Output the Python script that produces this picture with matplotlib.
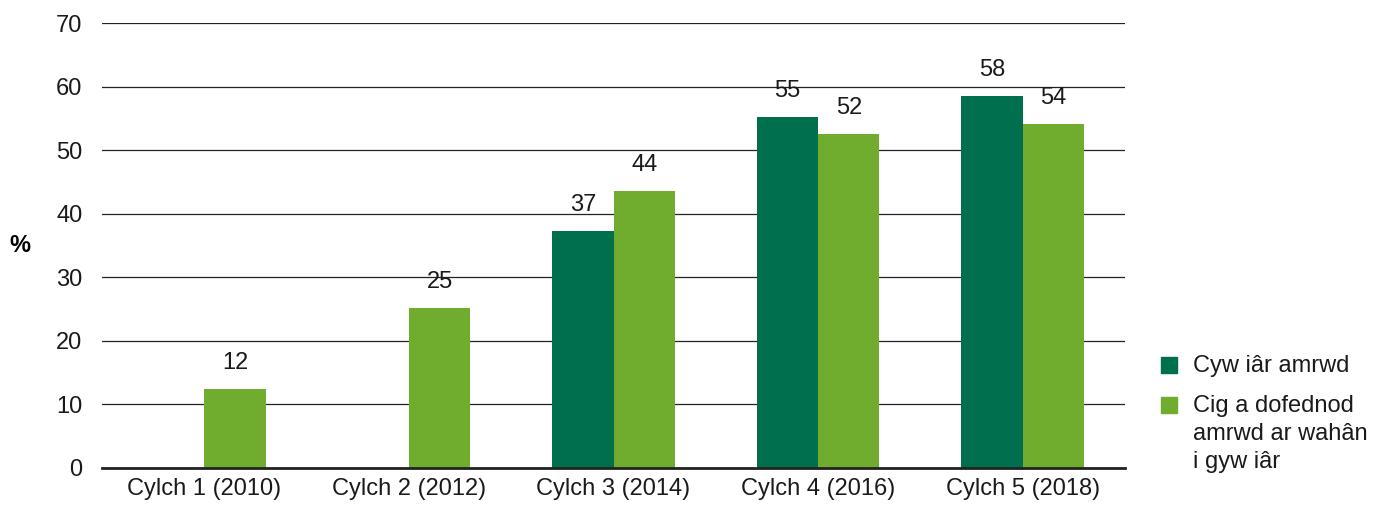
import numpy as np
import matplotlib.pyplot as plt
from matplotlib.patches import Rectangle

plt.rcParams['font.family'] = ['Liberation Sans', 'DejaVu Sans']

categories = ['Cylch 1 (2010)', 'Cylch 2 (2012)', 'Cylch 3 (2014)', 'Cylch 4 (2016)', 'Cylch 5 (2018)']
raw_chicken = [np.nan, np.nan, 37.3, 55.2, 58.5]
raw_chicken_labels = ['', '', '37', '55', '58']
other_poultry = [12.4, 25.2, 43.6, 52.5, 54.1]
other_poultry_labels = ['12', '25', '44', '52', '54']
series_names = ['Cyw iâr amrwd', 'Cig a dofednod\namrwd ar wahân\ni gyw iâr']

dark = '#006f4e'
light = '#70ad2f'
fs = 17

fig = plt.figure(figsize=(13.86, 5.08), dpi=100)
ax = fig.add_axes([102/1386, 1 - 468/508, 1023/1386, 445/508])

x = np.arange(len(categories))
w = 0.3
b1 = ax.bar(x - w/2, raw_chicken, w, color=dark, zorder=3)
b2 = ax.bar(x + w/2, other_poultry, w, color=light, zorder=3)

for bars, labels in [(b1, raw_chicken_labels), (b2, other_poultry_labels)]:
    for rect, lab in zip(bars, labels):
        if lab:
            ax.text(rect.get_x() + rect.get_width()/2, rect.get_height() + 2.4, lab,
                    ha='center', va='bottom', fontsize=fs, color='#1a1a1a')

ax.set_xlim(-0.5, 4.5)
ax.set_ylim(0, 70)
ax.set_yticks(range(0, 71, 10))
ax.set_xticks(x)
ax.set_xticklabels(categories)
ax.tick_params(length=0, labelsize=fs, colors='#1a1a1a')
ax.tick_params(axis='y', pad=14)
ax.tick_params(axis='x', pad=7)
ax.grid(axis='y', color='#222222', linewidth=0.9, zorder=0)
for s in ['top', 'right', 'left']:
    ax.spines[s].set_visible(False)
ax.spines['bottom'].set_linewidth(2)
ax.spines['bottom'].set_color('#222222')
ax.spines['bottom'].set_zorder(4)

fig.text(20/1386, 1 - 246/508, '%', fontsize=fs, fontweight='bold', ha='center', va='center')

# legend drawn by hand so the swatch sits beside the first text line
for name, col, ytop in [(series_names[0], dark, 357), (series_names[1], light, 397)]:
    fig.add_artist(Rectangle((1161/1386, 1 - (ytop + 16)/508), 16/1386, 16/508,
                             transform=fig.transFigure, color=col))
    fig.text(1193/1386, 1 - (ytop - 2)/508, name, fontsize=fs, ha='left', va='top',
             color='#1a1a1a', linespacing=1.35)

fig.savefig('out.png', dpi=100)
